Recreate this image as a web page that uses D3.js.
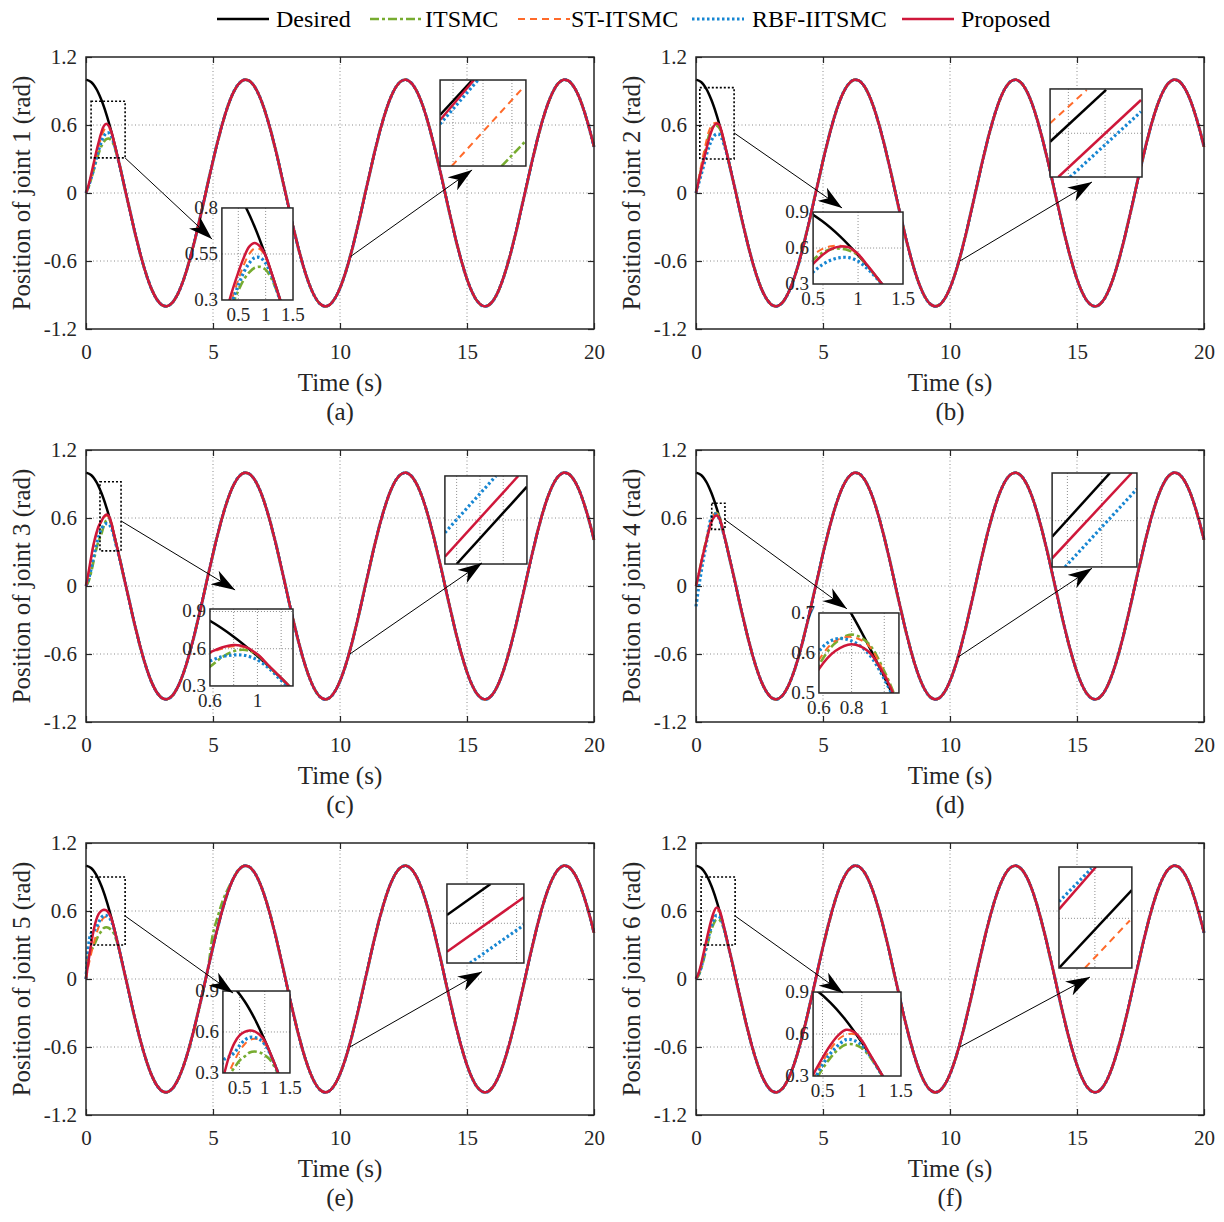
<!DOCTYPE html>
<html>
<head>
<meta charset="utf-8">
<script src="https://cdn.jsdelivr.net/npm/d3@7"></script>
<style>
  body { margin: 0; background: #fff; }
</style>
</head>
<body>
<svg id="chart"></svg>
<script>
// DATA
const SERIES = ['Desired', 'ITSMC', 'ST-ITSMC', 'RBF-IITSMC', 'Proposed']
const xTicks = [0, 5, 10, 15, 20]
const yTicks = [-1.2, -0.6, 0, 0.6, 1.2]
const yTickLabels = ['-1.2', '-0.6', '0', '0.6', '1.2']
const panelLabels = ['(a)', '(b)', '(c)', '(d)', '(e)', '(f)']

// desired trajectory, sampled every 0.2 s from 0 to 20 s
const desired = [
  1.000, 0.980, 0.921, 0.825, 0.697, 0.540, 0.362, 0.170, -0.029, -0.227,
  -0.416, -0.589, -0.737, -0.857, -0.942, -0.990, -0.998, -0.967, -0.897, -0.791,
  -0.654, -0.490, -0.307, -0.112, 0.087, 0.284, 0.468, 0.635, 0.776, 0.886,
  0.960, 0.997, 0.993, 0.950, 0.869, 0.754, 0.608, 0.439, 0.253, 0.054,
  -0.146, -0.340, -0.519, -0.679, -0.811, -0.911, -0.975, -1.000, -0.985, -0.930,
  -0.839, -0.714, -0.561, -0.386, -0.195, 0.004, 0.203, 0.394, 0.569, 0.721,
  0.844, 0.934, 0.986, 0.999, 0.973, 0.907, 0.806, 0.672, 0.511, 0.331,
  0.137, -0.063, -0.260, -0.447, -0.615, -0.760, -0.873, -0.953, -0.994, -0.996,
  -0.958, -0.882, -0.770, -0.628, -0.461, -0.276, -0.079, 0.121, 0.315, 0.498,
  0.660, 0.796, 0.900, 0.969, 0.999, 0.989, 0.939, 0.853, 0.732, 0.582,
  0.408
]
const tDesired = desired.map((_, k) => k * 0.2)

// transient part of each controller (t = 0 .. 1.3 s, step 0.1), joints 1..6
// after 1.3 s every controller sits on the desired curve
const tStart = [0, 0.1, 0.2, 0.3, 0.4, 0.5, 0.6, 0.7, 0.8, 0.9, 1.0, 1.1, 1.2, 1.3]
const itsmcStart = [
  [0, .05, .12, .20, .28, .35, .41, .45, .475, .48, .465, .42, .35, .265],
  [0, .10, .21, .31, .41, .50, .56, .59, .595, .58, .54, .455, .362, .267],
  [0, .04, .12, .22, .32, .40, .455, .53, .58, .59, .55, .455, .362, .267],
  [0, .09, .20, .30, .40, .49, .57, .625, .646, .625, .555, .458, .364, .267],
  [0, .20, .25, .29, .34, .39, .42, .45, .457, .45, .43, .40, .34, .262],
  [0, .03, .09, .17, .26, .35, .43, .49, .525, .525, .50, .44, .355, .265]
]
const stStart = [
  [0, .06, .14, .23, .32, .41, .49, .55, .58, .575, .53, .45, .36, .267],
  [0, .12, .24, .35, .45, .54, .59, .615, .62, .60, .545, .456, .363, .267],
  [0, .11, .24, .36, .45, .52, .565, .60, .62, .61, .55, .458, .363, .267],
  [0, .10, .21, .31, .41, .50, .583, .63, .64, .62, .55, .457, .363, .267],
  [0, .12, .22, .31, .39, .46, .51, .54, .55, .545, .515, .45, .36, .267],
  [0, .05, .12, .21, .30, .40, .49, .56, .595, .60, .55, .455, .363, .267]
]
const rbfStart = [
  [0, .06, .13, .21, .30, .38, .45, .50, .53, .53, .50, .44, .355, .265],
  [0, .08, .16, .24, .33, .40, .46, .50, .52, .52, .49, .43, .355, .265],
  [0, .06, .15, .26, .36, .44, .50, .535, .55, .545, .51, .44, .345, .262],
  [-.18, -.02, .12, .25, .37, .50, .604, .635, .63, .60, .535, .45, .36, .266],
  [0, .30, .40, .42, .45, .50, .54, .56, .56, .545, .51, .445, .36, .266],
  [0, .04, .10, .19, .28, .38, .46, .52, .56, .555, .52, .45, .36, .266]
]
const proposedStart = [
  [0, .07, .16, .26, .36, .45, .53, .59, .61, .59, .54, .454, .362, .267],
  [0, .10, .20, .29, .38, .467, .54, .59, .612, .605, .55, .46, .365, .267],
  [0, .12, .25, .37, .46, .53, .57, .61, .63, .615, .555, .46, .365, .267],
  [0, .10, .20, .30, .39, .48, .56, .605, .622, .605, .545, .456, .363, .267],
  [0, .16, .30, .43, .52, .575, .60, .61, .605, .58, .535, .454, .362, .267],
  [0, .05, .13, .23, .33, .43, .52, .59, .63, .615, .555, .46, .365, .267]
]
// ITSMC on joint 5 runs ahead of the reference around t = 5 s
const itsmcJ5Lead = [[5.0, 0.40], [5.2, 0.56], [5.4, 0.70], [5.6, 0.80]]

// left zoom windows (time, position)
const inset1XDomain = [[0.2, 1.5], [0.5, 1.5], [0.6, 1.3], [0.6, 1.09], [0.17, 1.5], [0.38, 1.5]]
const inset1YDomain = [[0.3, 0.8], [0.3, 0.9], [0.3, 0.92], [0.5, 0.7], [0.3, 0.9], [0.3, 0.9]]
const inset1XTicks = [[0.5, 1, 1.5], [0.5, 1, 1.5], [0.6, 0.8, 1, 1.2], [0.6, 0.8, 1], [0.5, 1, 1.5], [0.5, 1, 1.5]]
const inset1XLabels = [['0.5', '1', '1.5'], ['0.5', '1', '1.5'], ['0.6', '', '1', ''], ['0.6', '0.8', '1'], ['0.5', '1', '1.5'], ['0.5', '1', '1.5']]
const inset1YTicks = [[0.3, 0.55, 0.8], [0.3, 0.6, 0.9], [0.3, 0.6, 0.9], [0.5, 0.6, 0.7], [0.3, 0.6, 0.9], [0.3, 0.6, 0.9]]

// right zoom windows: line pieces in the window's own 0..1 units
const inset2Lines = [
  [['Desired', 0, .593, .369, .992], ['ITSMC', .717, 0, 1, .294], ['ST-ITSMC', .136, 0, .977, .922], ['RBF-IITSMC', 0, .488, .442, 1], ['Proposed', 0, .535, .395, 1]],
  [['Desired', 0, .401, .609, .989], ['ST-ITSMC', 0, .61, .399, .989], ['RBF-IITSMC', .217, 0, .989, .742], ['Proposed', .09, 0, .989, .875]],
  [['Desired', .143, 0, 1, .878], ['RBF-IITSMC', 0, .356, .622, 1], ['Proposed', 0, .083, .894, 1]],
  [['Desired', 0, .322, .682, 1], ['RBF-IITSMC', .153, 0, 1, .83], ['Proposed', 0, .092, .938, 1]],
  [['Desired', 0, .608, .567, 1], ['RBF-IITSMC', .3, 0, 1, .481], ['Proposed', 0, .143, 1, .832]],
  [['Desired', 0, 0, 1, .772], ['ST-ITSMC', .356, 0, .973, .471], ['RBF-IITSMC', 0, .657, .448, .987], ['Proposed', 0, .581, .507, 1]]
]
const inset2GridX = [[.151, .5, .837], [.199, .598], [.143, .427, .711], [.18, .585], [.471, .905], [.493]]
const inset2GridY = [[.5], [.497], [.5], [.493], [.503], [.492]]

// LAYOUT (in main-axis data units)
const zoomBox = [[0.2, 1.54, 0.31, 0.81], [0.15, 1.5, 0.3, 0.93], [0.55, 1.38, 0.31, 0.92],
  [0.62, 1.14, 0.5, 0.73], [0.2, 1.54, 0.3, 0.9], [0.2, 1.54, 0.3, 0.9]]
const inset1Box = [[5.35, 8.15, -0.132, -0.944], [4.61, 8.15, -0.168, -0.803], [4.88, 8.15, -0.203, -0.882],
  [4.84, 7.99, -0.238, -0.944], [5.39, 8.03, -0.106, -0.829], [4.61, 8.07, -0.115, -0.856]]
const inset2Box = [[13.94, 17.32, 0.997, 0.238], [13.94, 17.56, 0.918, 0.141], [14.13, 17.36, 0.971, 0.194],
  [14.02, 17.36, 0.997, 0.168], [14.21, 17.24, 0.838, 0.141], [14.29, 17.16, 0.988, 0.097]]
const arrow1 = [[1.54, 0.309, 4.96, -0.406], [1.5, 0.53, 5.75, -0.132], [1.38, 0.574, 5.87, -0.035],
  [1.14, 0.585, 5.94, -0.201], [1.54, 0.556, 5.79, -0.124], [1.54, 0.556, 5.79, -0.124]]
const arrow2 = [[10.42, -0.56, 15.2, 0.203], [10.39, -0.6, 15.59, 0.097], [10.39, -0.6, 15.59, 0.204],
  [10.31, -0.628, 15.59, 0.156], [10.39, -0.6, 15.59, 0.065], [10.39, -0.6, 15.51, 0.017]]

const W = 1224
const H = 1222
const COL_X = [86, 696]
const ROW_Y = [57, 450, 843]
const PW = 508
const PH = 272
const FONT = '"Liberation Serif", "Times New Roman", serif'
const AXIS = '#262626'
const GRID = '#8c8c8c'
const STYLE = {
  'Desired': { color: '#000000', width: 2.5, dash: null },
  'ITSMC': { color: '#77AC30', width: 2.6, dash: '9,3,3,3' },
  'ST-ITSMC': { color: '#FF6A2A', width: 2, dash: '7,5' },
  'RBF-IITSMC': { color: '#1786D2', width: 3.2, dash: '2.5,2.5' },
  'Proposed': { color: '#CF173A', width: 2.5, dash: null }
}
const START = { 'ITSMC': itsmcStart, 'ST-ITSMC': stStart, 'RBF-IITSMC': rbfStart, 'Proposed': proposedStart }

function trackData(s, j) {
  if (s === 'Desired') return tDesired.map((t, k) => [t, desired[k]])
  const pts = tStart.map((t, k) => [t, START[s][j][k]])
    .concat(tDesired.slice(7).map((t, k) => [t, desired[k + 7]]))
  if (s === 'ITSMC' && j === 4) {
    itsmcJ5Lead.forEach(([t, v]) => {
      const p = pts.find(d => Math.abs(d[0] - t) < 1e-6)
      if (p) p[1] = v
    })
  }
  return pts
}

function styled(sel, s) {
  return sel.attr('fill', 'none')
    .attr('stroke', STYLE[s].color)
    .attr('stroke-width', STYLE[s].width)
    .attr('stroke-dasharray', STYLE[s].dash)
    .attr('stroke-linejoin', 'round')
}

const svg = d3.select('#chart').attr('width', W).attr('height', H)
  .attr('font-family', FONT)

svg.append('defs').append('marker')
  .attr('id', 'head')
  .attr('viewBox', '0 0 24 16')
  .attr('markerWidth', 24).attr('markerHeight', 16)
  .attr('refX', 24).attr('refY', 8)
  .attr('orient', 'auto')
  .attr('markerUnits', 'userSpaceOnUse')
  .append('path').attr('d', 'M0,0 L24,8 L0,16 L7,8 Z').attr('fill', '#000')

// LEGEND
const legendX = [217, 370, 518, 692, 902]
const legendTextX = [276, 425, 571, 752, 961]
const legend = svg.append('g').attr('transform', 'translate(0, 19)')
SERIES.forEach((s, k) => {
  styled(legend.append('line'), s)
    .attr('x1', legendX[k]).attr('x2', legendX[k] + 52).attr('y1', 0).attr('y2', 0)
  legend.append('text')
    .attr('x', legendTextX[k]).attr('y', 8)
    .attr('font-size', 24)
    .text(s)
})

function drawPanel(i) {
  const col = i % 2
  const row = Math.floor(i / 2)
  const g = svg.append('g').attr('transform', `translate(${COL_X[col]}, ${ROW_Y[row]})`)

  const x = d3.scaleLinear().domain([0, 20]).range([0, PW])
  const y = d3.scaleLinear().domain([-1.2, 1.2]).range([PH, 0])

  // GRID
  g.append('g').selectAll('line').data(xTicks.slice(1, -1)).join('line')
    .attr('x1', d => x(d)).attr('x2', d => x(d)).attr('y1', 0).attr('y2', PH)
    .attr('stroke', GRID).attr('stroke-dasharray', '1,2.5')
  g.append('g').selectAll('line').data(yTicks.slice(1, -1)).join('line')
    .attr('y1', d => y(d)).attr('y2', d => y(d)).attr('x1', 0).attr('x2', PW)
    .attr('stroke', GRID).attr('stroke-dasharray', '1,2.5')

  // CURVES
  const line = d3.line()
    .x(d => x(d[0])).y(d => y(d[1]))
    .curve(d3.curveCatmullRom.alpha(0.5))
  const tracks = {}
  SERIES.forEach(s => {
    tracks[s] = trackData(s, i)
    styled(g.append('path').datum(tracks[s]), s).attr('d', line)
  })

  // AXES
  const fixAxis = a => {
    a.select('.domain').remove()
    a.attr('font-family', FONT).attr('font-size', 21).attr('color', AXIS)
    a.selectAll('line').attr('stroke-width', 1.2)
    a.selectAll('text').attr('fill', AXIS)
  }
  g.append('g').attr('transform', `translate(0, ${PH})`)
    .call(d3.axisBottom(x).tickValues(xTicks).tickFormat(d3.format('d'))
      .tickSizeInner(-6).tickSizeOuter(0).tickPadding(15))
    .call(fixAxis)
  g.append('g')
    .call(d3.axisLeft(y).tickValues(yTicks).tickFormat((d, k) => yTickLabels[k])
      .tickSizeInner(-6).tickSizeOuter(0).tickPadding(9))
    .call(fixAxis)
  g.append('g')
    .call(d3.axisTop(x).tickValues(xTicks).tickFormat('').tickSizeInner(-6).tickSizeOuter(0))
    .call(fixAxis)
  g.append('g').attr('transform', `translate(${PW}, 0)`)
    .call(d3.axisRight(y).tickValues(yTicks).tickFormat('').tickSizeInner(-6).tickSizeOuter(0))
    .call(fixAxis)
  g.append('rect')
    .attr('width', PW).attr('height', PH)
    .attr('fill', 'none').attr('stroke', AXIS).attr('stroke-width', 1.5)

  // LABELS
  g.append('text')
    .attr('transform', `translate(-56, ${PH / 2}) rotate(-90)`)
    .attr('text-anchor', 'middle').attr('font-size', 25).attr('fill', AXIS)
    .text(`Position of joint ${i + 1} (rad)`)
  g.append('text')
    .attr('x', PW / 2).attr('y', PH + 62)
    .attr('text-anchor', 'middle').attr('font-size', 25).attr('fill', AXIS)
    .text('Time (s)')
  g.append('text')
    .attr('x', PW / 2).attr('y', PH + 91)
    .attr('text-anchor', 'middle').attr('font-size', 25).attr('fill', AXIS)
    .text(panelLabels[i])

  // ZOOM MARK
  const z = zoomBox[i]
  g.append('rect')
    .attr('x', x(z[0])).attr('y', y(z[3]))
    .attr('width', x(z[1]) - x(z[0])).attr('height', y(z[2]) - y(z[3]))
    .attr('fill', 'none').attr('stroke', '#000').attr('stroke-width', 1.6)
    .attr('stroke-dasharray', '2,2')

  // LEFT INSET
  const b1 = inset1Box[i]
  const w1 = x(b1[1]) - x(b1[0])
  const h1 = y(b1[3]) - y(b1[2])
  const ig = g.append('g').attr('transform', `translate(${x(b1[0])}, ${y(b1[2])})`)
  const sx = d3.scaleLinear().domain(inset1XDomain[i]).range([0, w1])
  const sy = d3.scaleLinear().domain(inset1YDomain[i]).range([h1, 0])
  ig.append('rect').attr('width', w1).attr('height', h1).attr('fill', '#fff')
  const dx = inset1XDomain[i]
  const dy = inset1YDomain[i]
  ig.append('g').selectAll('line').data(inset1XTicks[i].filter(t => t > dx[0] + 1e-6 && t < dx[1] - 1e-6)).join('line')
    .attr('x1', d => sx(d)).attr('x2', d => sx(d)).attr('y1', 0).attr('y2', h1)
    .attr('stroke', GRID).attr('stroke-dasharray', '1,2')
  ig.append('g').selectAll('line').data(inset1YTicks[i].filter(t => t > dy[0] + 1e-6 && t < dy[1] - 1e-6)).join('line')
    .attr('y1', d => sy(d)).attr('y2', d => sy(d)).attr('x1', 0).attr('x2', w1)
    .attr('stroke', GRID).attr('stroke-dasharray', '1,2')
  ig.append('clipPath').attr('id', `clip1-${i}`)
    .append('rect').attr('width', w1).attr('height', h1)
  const iline = d3.line()
    .x(d => sx(d[0])).y(d => sy(d[1]))
    .curve(d3.curveCatmullRom.alpha(0.5))
  const icurves = ig.append('g').attr('clip-path', `url(#clip1-${i})`)
  SERIES.forEach(s => {
    styled(icurves.append('path').datum(tracks[s].filter(d => d[0] < 2.2)), s).attr('d', iline)
  })
  ig.append('rect').attr('width', w1).attr('height', h1)
    .attr('fill', 'none').attr('stroke', AXIS).attr('stroke-width', 1.5)
  ig.append('g').selectAll('text').data(inset1XTicks[i]).join('text')
    .attr('x', d => sx(d)).attr('y', h1 + 21)
    .attr('text-anchor', 'middle').attr('font-size', 19).attr('fill', AXIS)
    .text((d, k) => inset1XLabels[i][k])
  ig.append('g').selectAll('text').data(inset1YTicks[i]).join('text')
    .attr('x', -4).attr('y', d => sy(d) + 6)
    .attr('text-anchor', 'end').attr('font-size', 19).attr('fill', AXIS)
    .text(d => d)

  // RIGHT INSET
  const b2 = inset2Box[i]
  const w2 = x(b2[1]) - x(b2[0])
  const h2 = y(b2[3]) - y(b2[2])
  const rg = g.append('g').attr('transform', `translate(${x(b2[0])}, ${y(b2[2])})`)
  const ux = d3.scaleLinear().domain([0, 1]).range([0, w2])
  const uy = d3.scaleLinear().domain([0, 1]).range([h2, 0])
  rg.append('rect').attr('width', w2).attr('height', h2).attr('fill', '#fff')
  rg.append('g').selectAll('line').data(inset2GridX[i]).join('line')
    .attr('x1', d => ux(d)).attr('x2', d => ux(d)).attr('y1', 0).attr('y2', h2)
    .attr('stroke', GRID).attr('stroke-dasharray', '1,2')
  rg.append('g').selectAll('line').data(inset2GridY[i]).join('line')
    .attr('y1', d => uy(d)).attr('y2', d => uy(d)).attr('x1', 0).attr('x2', w2)
    .attr('stroke', GRID).attr('stroke-dasharray', '1,2')
  rg.append('clipPath').attr('id', `clip2-${i}`)
    .append('rect').attr('width', w2).attr('height', h2)
  const rcurves = rg.append('g').attr('clip-path', `url(#clip2-${i})`)
  const pieces = inset2Lines[i].slice().sort((a, b) => SERIES.indexOf(a[0]) - SERIES.indexOf(b[0]))
  pieces.forEach(p => {
    styled(rcurves.append('line'), p[0])
      .attr('x1', ux(p[1])).attr('y1', uy(p[2]))
      .attr('x2', ux(p[3])).attr('y2', uy(p[4]))
  })
  rg.append('rect').attr('width', w2).attr('height', h2)
    .attr('fill', 'none').attr('stroke', AXIS).attr('stroke-width', 1.5)

  // ARROWS
  ;[arrow1[i], arrow2[i]].forEach(a => {
    g.append('line')
      .attr('x1', x(a[0])).attr('y1', y(a[1]))
      .attr('x2', x(a[2])).attr('y2', y(a[3]))
      .attr('stroke', '#000').attr('stroke-width', 1)
      .attr('marker-end', 'url(#head)')
  })
}

for (let i = 0; i < 6; i++) drawPanel(i)
</script>
</body>
</html>
